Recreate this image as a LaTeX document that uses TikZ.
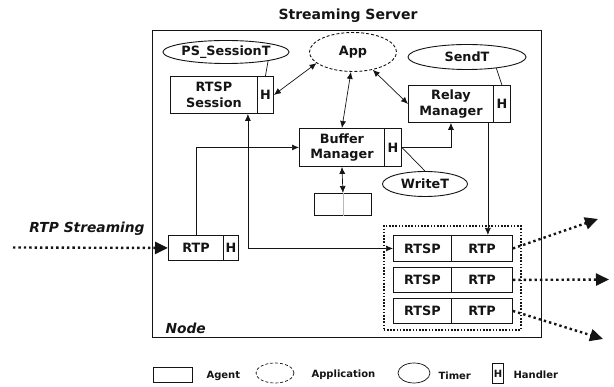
\documentclass[tikz,border=0pt]{standalone}
\usepackage{fontspec}
\setmainfont{DejaVu Sans}
\usetikzlibrary{arrows.meta,shapes.geometric,calc}
\definecolor{ink}{gray}{0.08}
\begin{document}
\begin{tikzpicture}[x=1pt,y=-1pt,
  lbl/.style={font=\bfseries\fontsize{12.8}{15.5}\selectfont, align=center, text=ink},
  agent/.style={draw=ink, line width=0.9pt, inner sep=0pt, anchor=north west, lbl},
  timer/.style={draw=ink, line width=0.9pt, ellipse, inner sep=0pt, lbl},
  appl/.style={timer, dash pattern=on 3pt off 2pt},
  link/.style={draw=ink, line width=0.7pt},
  tip/.style={-{Latex[length=7pt,width=6pt]}},
  both/.style={{Latex[length=7pt,width=6pt]}-{Latex[length=7pt,width=6pt]}},
  flow/.style={draw=ink, line width=2.4pt, dash pattern=on 2.4pt off 3pt,
    -{Triangle[length=13pt,width=12pt]}},
  caption/.style={font=\bfseries\itshape\fontsize{13.8}{16}\selectfont, text=ink},
  legend/.style={font=\bfseries\fontsize{10}{12}\selectfont, text=ink, anchor=west},
]
\useasboundingbox (0,0) rectangle (614,387);

% title and server frame
\node[font=\bfseries\fontsize{14}{16}\selectfont, text=ink] (title) at (348,16) {Streaming Server};
\node[draw=ink, line width=1.4pt, anchor=north west, minimum width=389pt, minimum height=307pt, inner sep=0pt] (server) at (152,30) {};
\node[caption, anchor=west] (nodelbl) at (162,328) {Node};

% timers and application
\node[timer, minimum width=114pt, minimum height=23pt] (ps) at (226,52) {PS\_SessionT};
\node[appl, minimum width=87pt, minimum height=39pt] (app) at (353,52) {App};
\node[timer, minimum width=118pt, minimum height=25pt] (sendt) at (467,57) {SendT};
\node[timer, minimum width=85pt, minimum height=25pt] (writet) at (425,184) {WriteT};

% agents with their handlers
\node[agent, minimum width=87pt, minimum height=37pt] (rtsp) at (170,76) {RTSP\\Session};
\node[agent, minimum width=16pt, minimum height=37pt] (rtsph) at (257,76) {H};
\node[agent, minimum width=85pt, minimum height=37pt] (relay) at (408,85) {Relay\\Manager};
\node[agent, minimum width=17pt, minimum height=37pt] (relayh) at (493,85) {H};
\node[agent, minimum width=85pt, minimum height=38pt] (buf) at (299,128) {Buffer\\Manager};
\node[agent, minimum width=17pt, minimum height=38pt] (bufh) at (384,128) {H};
\node[agent, minimum width=57pt, minimum height=22pt] (store) at (314,193) {};
\draw[gray!55, line width=0.3pt] (store.north) -- (store.south);
\node[agent, minimum width=55pt, minimum height=25pt] (rtp) at (168,235) {RTP};
\node[agent, minimum width=15pt, minimum height=25pt] (rtph) at (223,235) {H};

% session group
\node[draw=ink, line width=1.6pt, dash pattern=on 1.6pt off 1.6pt, anchor=north west,
      minimum width=137pt, minimum height=104pt, inner sep=0pt] (group) at (383,225) {};
\node[agent, minimum width=58pt, minimum height=26pt] (r1a) at (393,235) {RTSP};
\node[agent, minimum width=61pt, minimum height=26pt] (r1b) at (451,235) {RTP};
\node[agent, minimum width=58pt, minimum height=25pt] (r2a) at (393,267) {RTSP};
\node[agent, minimum width=61pt, minimum height=25pt] (r2b) at (451,267) {RTP};
\node[agent, minimum width=58pt, minimum height=25pt] (r3a) at (393,298) {RTSP};
\node[agent, minimum width=61pt, minimum height=25pt] (r3b) at (451,298) {RTP};

% timer attachments
\draw[link] (ps.-12) -- (rtsph.north);
\draw[link] (sendt.-21) -- (relayh.north);
\draw[link] (bufh.east) -- (writet.north);

% control links
\draw[link,both] (app.197) -- (rtsph.east);
\draw[link,both] (app.264) -- (buf.north);
\draw[link,both] (app.318) -- (relay.west);
\draw[link,both] (buf.south) -- (store.north);
\draw[link,tip] (bufh.east) -| (relay.south);
\draw[link,tip] (rtp.north) |- (buf.west);
\coordinate (rsdown) at ([xshift=-10pt]rtsp.south east);
\draw[link,both] (rsdown) |- (r1a.west);
\coordinate (rldown) at ([xshift=-6pt]relay.south east);
\draw[link,tip] (rldown) -- (rldown |- r1b.north);

% media streams
\coordinate (src) at (13,247.5);
\draw[flow] (src) -- (rtp.west);
\node[caption] (inlbl) at (87,229) {RTP Streaming};
\coordinate (out1) at (598,219);
\coordinate (out2) at (609,279.5);
\coordinate (out3) at (603,339);
\draw[flow] (r1b.east) -- (out1);
\draw[flow] (r2b.east) -- (out2);
\draw[flow] (r3b.east) -- (out3);

% legend
\node[agent, minimum width=39pt, minimum height=15pt] (lgagent) at (153,367) {};
\node[legend] (lgagenttxt) at (203,376) {Agent};
\node[appl, minimum width=38pt, minimum height=20pt, line width=0.7pt] (lgapp) at (275,373) {};
\node[legend] (lgapptxt) at (308,375) {Application};
\node[timer, minimum width=32pt, minimum height=20pt, line width=0.7pt] (lgtimer) at (414,373) {};
\node[legend] (lgtimertxt) at (435,376) {Timer};
\node[agent, minimum width=11pt, minimum height=20pt, font=\bfseries\fontsize{10}{12}\selectfont] (lgh) at (492,363) {H};
\node[legend] (lghtxt) at (510,375) {Handler};
\end{tikzpicture}
\end{document}
